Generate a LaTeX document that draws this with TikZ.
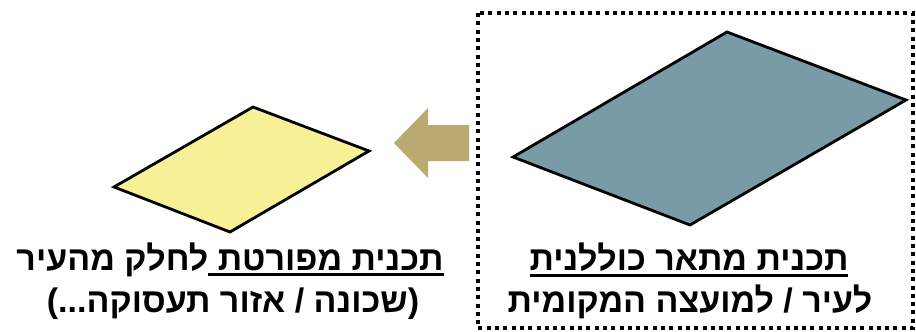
\documentclass[tikz,border=0pt]{standalone}
\usepackage{fontspec}
\usepackage{xcolor}
\usepackage{tikz}
\usetikzlibrary{calc}
\newfontfamily\hebfont[Script=Hebrew]{Liberation Sans}
\TeXXeTstate=1

\definecolor{planblue}{RGB}{120,155,166}
\definecolor{planyellow}{RGB}{246,241,150}
\definecolor{arrowkhaki}{RGB}{186,170,112}

% thick underline that works inside right-to-left text
\newcommand{\hebul}[1]{\leavevmode\vtop{\hbox{\beginR#1\endR}\kern3pt\hrule height 2.6pt}}

\begin{document}
\begin{tikzpicture}[
  x=1pt, y=-1pt,
  plate/.style   = {draw=black, line width=2.8pt, line join=miter},
  bigplate/.style   = {plate, fill=planblue},
  smallplate/.style = {plate, fill=planyellow},
  frame/.style   = {draw=black, line width=4pt, dash pattern=on 4pt off 4.3pt},
  fatarrow/.style = {fill=arrowkhaki, draw=none},
  txt/.style     = {font=\hebfont\bfseries\fontsize{34}{42}\selectfont,
                    anchor=base, inner sep=0pt}
]
\useasboundingbox (0,0) rectangle (916,332);

%% ---- dotted frame (right) ----
\draw[frame] (478,13) rectangle (913,328);

%% ---- big plate ----
\coordinate (bt) at (727,32);
\coordinate (br) at (906,100);
\coordinate (bb) at (690,225);
\coordinate (bl) at (513,157);
\draw[bigplate] (bt) -- (br) -- (bb) -- (bl) -- cycle;

%% ---- small plate ----
\coordinate (st) at (253,107);
\coordinate (sr) at (369,151);
\coordinate (sb) at (230,232);
\coordinate (sl) at (114,187);
\draw[smallplate] (st) -- (sr) -- (sb) -- (sl) -- cycle;

%% ---- arrow (right to left) ----
\fill[fatarrow] (469,125) -- (428,125) -- (428,108) -- (394,143)
  -- (428,178) -- (428,161) -- (469,161) -- cycle;

%% ---- labels ----
\node[txt] (gen1) at (689,270) {\hebul{תכנית מתאר כוללנית}};
\node[txt] (gen2) at (690,312) {\beginR לעיר / למועצה המקומית\endR};

\node[txt] (det1) at (230,270)
  {\beginR\hebul{תכנית מפורטת }לחלק מהעיר\endR};
\node[txt] (det2) at (233,312) {\beginR(שכונה / אזור תעסוקה...)\endR};

\end{tikzpicture}
\end{document}
